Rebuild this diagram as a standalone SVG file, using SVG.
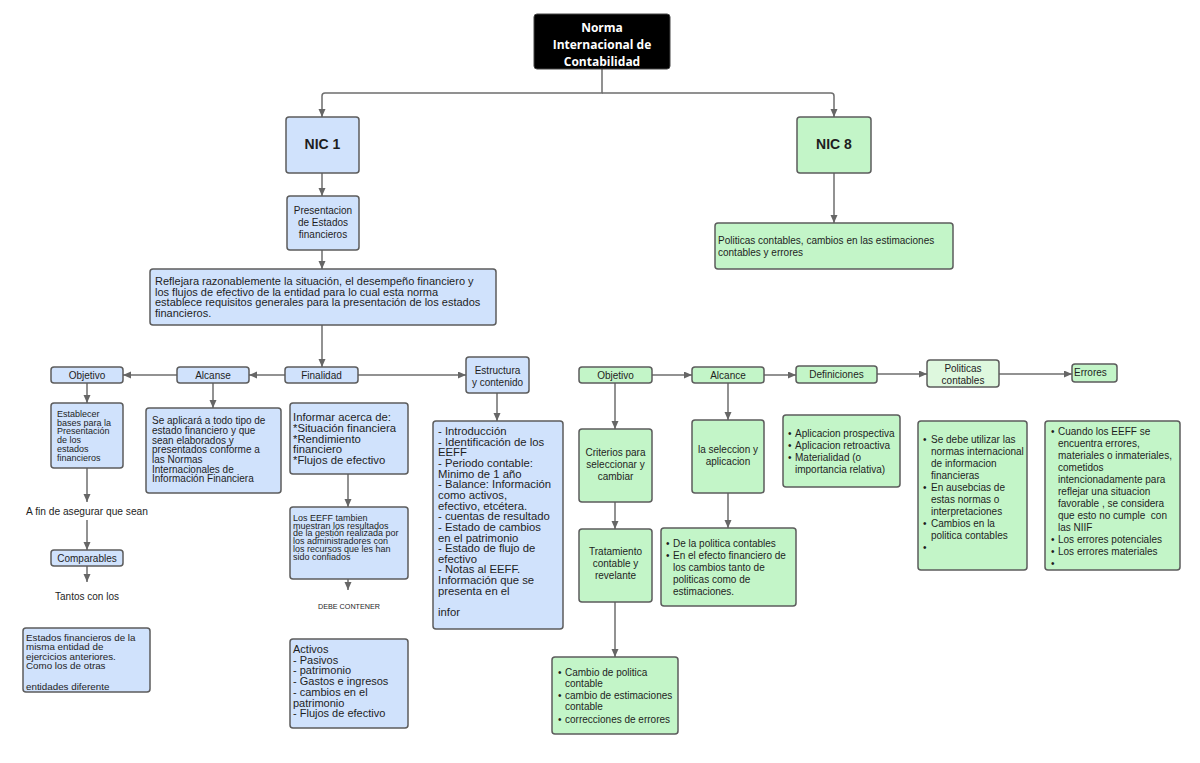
<svg xmlns="http://www.w3.org/2000/svg" width="1200" height="763" viewBox="0 0 1200 763">
<defs>
<marker id="ah" markerUnits="userSpaceOnUse" markerWidth="9" markerHeight="8" refX="8" refY="3.5" orient="auto">
<path d="M0,0 L8,3.5 L0,7 z" fill="#666"/>
</marker>
<style>
.b{fill:#d0e2fc;stroke:#5c5c5c;stroke-width:1.5}
.g{fill:#c3f5c8;stroke:#5c5c5c;stroke-width:1.5}
.gl{fill:#def8de;stroke:#5c5c5c;stroke-width:1.5}
text{font-family:"Liberation Sans",Arial,sans-serif;fill:#1e1e1e}
.c{text-anchor:middle}
.f10{font-size:10px}
.f11{font-size:11px}
.h{font-size:14px;font-weight:bold}
.tt{font-family:"Open Sans","Noto Sans",sans-serif;font-size:12px;font-weight:bold;fill:#fff;text-anchor:middle}
#connectors path,#connectors line{fill:none;stroke:#6e6e6e;stroke-width:1.5;marker-end:url(#ah)}
</style>
</defs>
<rect width="1200" height="763" fill="#fff"/>

<g id="connectors">
<path d="M602,69 V93 H325 Q322,93 322,96 V117"/>
<path d="M602,93 H831 Q834,93 834,96 V117"/>
<line x1="322" y1="173" x2="322" y2="196"/>
<line x1="322" y1="250" x2="322" y2="269"/>
<line x1="322" y1="325" x2="322" y2="367"/>
<line x1="285" y1="375" x2="249" y2="375"/>
<line x1="177" y1="375" x2="123" y2="375"/>
<line x1="358" y1="375" x2="466" y2="375"/>
<line x1="87" y1="383" x2="87" y2="403"/>
<line x1="87" y1="468" x2="87" y2="502"/>
<line x1="87" y1="520" x2="87" y2="550"/>
<line x1="87" y1="566" x2="87" y2="582"/>
<line x1="213" y1="383" x2="213" y2="408"/>
<line x1="348" y1="474" x2="348" y2="507"/>
<line x1="348" y1="579" x2="348" y2="590"/>
<line x1="497" y1="393" x2="497" y2="421"/>
<line x1="834" y1="173" x2="834" y2="223"/>
<line x1="652" y1="375" x2="692" y2="375"/>
<line x1="764" y1="375" x2="796" y2="375"/>
<line x1="877" y1="374" x2="927" y2="374"/>
<line x1="999" y1="374" x2="1072" y2="374"/>
<line x1="615" y1="383" x2="615" y2="429"/>
<line x1="615" y1="502" x2="615" y2="529"/>
<line x1="615" y1="602" x2="615" y2="657"/>
<line x1="728" y1="383" x2="728" y2="420"/>
<line x1="728" y1="493" x2="728" y2="528"/>
</g>

<g id="title">
<rect x="534" y="14" width="136" height="55" rx="3" fill="#000" stroke="#444" stroke-width="1"/>
<text class="tt" x="602" y="31.5">Norma</text>
<text class="tt" x="602" y="48.5">Internacional de</text>
<text class="tt" x="602" y="65.5">Contabilidad</text>
</g>

<g id="nic1">
<rect class="b" x="286" y="117" width="73" height="56" rx="3"/>
<text class="h c" x="322.5" y="149">NIC 1</text>
</g>

<g id="presentacion">
<rect class="b" x="287" y="196" width="72" height="54" rx="3"/>
<text class="c f10" x="323" y="213.5">Presentacion</text>
<text class="c f10" x="323" y="225.5">de Estados</text>
<text class="c f10" x="323" y="237.5">financieros</text>
</g>

<g id="reflejara">
<rect class="b" x="150" y="269" width="346" height="56" rx="3"/>
<text class="f11" x="155" y="285">Reflejara razonablemente la situación, el desempeño financiero y</text>
<text class="f11" x="155" y="295.7">los flujos de efectivo de la entidad para lo cual esta norma</text>
<text class="f11" x="155" y="306.4">establece requisitos generales para la presentación de los estados</text>
<text class="f11" x="155" y="317.1">financieros.</text>
</g>

<g id="objetivo1">
<rect class="b" x="51" y="367" width="72" height="16" rx="3"/>
<text class="c f10" x="87" y="378.5">Objetivo</text>
</g>
<g id="alcanse">
<rect class="b" x="177" y="367" width="72" height="16" rx="3"/>
<text class="c f10" x="213" y="378.5">Alcanse</text>
</g>
<g id="finalidad">
<rect class="b" x="285" y="367" width="73" height="16" rx="3"/>
<text class="c f10" x="321.5" y="378.5">Finalidad</text>
</g>
<g id="estructura">
<rect class="b" x="466" y="357" width="63" height="36" rx="3"/>
<text class="c f10" x="497.5" y="373.5">Estructura</text>
<text class="c f10" x="497.5" y="385.5">y contenido</text>
</g>

<g id="establecer">
<rect class="b" x="51" y="403" width="72" height="65" rx="3"/>
<g font-size="9">
<text x="57" y="417">Establecer</text>
<text x="57" y="425.7">bases para la</text>
<text x="57" y="434.4">Presentación</text>
<text x="57" y="443.1">de los</text>
<text x="57" y="451.8">estados</text>
<text x="57" y="460.5">financieros</text>
</g>
</g>

<g id="afin">
<text class="c" font-size="10.2" x="87" y="515">A fin de asegurar que sean</text>
</g>
<g id="comparables">
<rect class="b" x="51" y="550" width="72" height="16" rx="3"/>
<text class="c f10" x="87" y="561.5">Comparables</text>
</g>
<g id="tantos">
<text class="c f10" x="87" y="600">Tantos con los</text>
</g>
<g id="estados">
<rect class="b" x="23" y="628" width="127" height="64" rx="3"/>
<g font-size="9.8">
<text x="26" y="640.5">Estados financieros de la</text>
<text x="26" y="650">misma entidad de</text>
<text x="26" y="659.5">ejercicios anteriores.</text>
<text x="26" y="669">Como los de otras</text>
<text x="26" y="689.5">entidades diferente</text>
</g>
</g>

<g id="seaplicara">
<rect class="b" x="146" y="408" width="135" height="85" rx="3"/>
<text class="f10" x="152" y="424.2">Se aplicará a todo tipo de</text>
<text class="f10" x="152" y="433.9">estado financiero y que</text>
<text class="f10" x="152" y="443.6">sean elaborados y</text>
<text class="f10" x="152" y="453.3">presentados conforme a</text>
<text class="f10" x="152" y="463">las Normas</text>
<text class="f10" x="152" y="472.7">Internacionales de</text>
<text class="f10" x="152" y="482.4">Información Financiera</text>
</g>

<g id="informar">
<rect class="b" x="290" y="403" width="118" height="71" rx="3"/>
<g font-size="11.3">
<text x="293" y="421">Informar acerca de:</text>
<text x="293" y="431.8">*Situación financiera</text>
<text x="293" y="442.6">*Rendimiento</text>
<text x="293" y="453.4">financiero</text>
<text x="293" y="464.2">*Flujos de efectivo</text>
</g>
</g>

<g id="loseeff">
<rect class="b" x="290" y="507" width="118" height="72" rx="3"/>
<g font-size="9">
<text x="293" y="521">Los EEFF tambien</text>
<text x="293" y="528.7">muestran los resultados</text>
<text x="293" y="536.4">de la gestión realizada por</text>
<text x="293" y="544.1">los administradores con</text>
<text x="293" y="551.8">los recursos que les han</text>
<text x="293" y="559.5">sido confiados</text>
</g>
</g>

<g id="debe">
<text class="c" font-size="7.2" x="349" y="608.5">DEBE CONTENER</text>
</g>

<g id="activos">
<rect class="b" x="290" y="639" width="118" height="89" rx="3"/>
<g font-size="11">
<text x="293" y="653">Activos</text>
<text x="293" y="663.7">- Pasivos</text>
<text x="293" y="674.4">- patrimonio</text>
<text x="293" y="685.1">- Gastos e ingresos</text>
<text x="293" y="695.8">- cambios en el</text>
<text x="293" y="706.5">patrimonio</text>
<text x="293" y="717.2">- Flujos de efectivo</text>
</g>
</g>

<g id="contenido">
<rect class="b" x="433" y="421" width="130" height="208" rx="3"/>
<g font-size="11.3">
<text x="438" y="435">- Introducción</text>
<text x="438" y="445.65">- Identificación de los</text>
<text x="438" y="456.3">EEFF</text>
<text x="438" y="466.95">- Periodo contable:</text>
<text x="438" y="477.6">Minimo de 1 año</text>
<text x="438" y="488.25">- Balance: Información</text>
<text x="438" y="498.9">como activos,</text>
<text x="438" y="509.55">efectivo, etcétera.</text>
<text x="438" y="520.2">- cuentas de resultado</text>
<text x="438" y="530.85">- Estado de cambios</text>
<text x="438" y="541.5">en el patrimonio</text>
<text x="438" y="552.15">- Estado de flujo de</text>
<text x="438" y="562.8">efectivo</text>
<text x="438" y="573.45">- Notas al EEFF.</text>
<text x="438" y="584.1">Información que se</text>
<text x="438" y="594.75">presenta en el</text>
<text x="438" y="616">infor</text>
</g>
</g>

<g id="nic8">
<rect class="g" x="797" y="117" width="74" height="56" rx="3"/>
<text class="h c" x="834" y="149">NIC 8</text>
</g>

<g id="politicas-nic8">
<rect class="g" x="715" y="223" width="238" height="46" rx="3"/>
<text class="f10" x="718" y="243.5">Politicas contables, cambios en las estimaciones</text>
<text class="f10" x="718" y="255.5">contables y errores</text>
</g>

<g id="objetivo8">
<rect class="g" x="579" y="367" width="73" height="16" rx="3"/>
<text class="c f10" x="615.5" y="378.5">Objetivo</text>
</g>
<g id="alcance8">
<rect class="g" x="692" y="367" width="72" height="16" rx="3"/>
<text class="c f10" x="728" y="378.5">Alcance</text>
</g>
<g id="definiciones">
<rect class="g" x="796" y="366" width="81" height="17" rx="3"/>
<text class="c f10" x="836.5" y="378">Definiciones</text>
</g>
<g id="politicas-contables">
<rect class="gl" x="927" y="360" width="72" height="27" rx="3"/>
<text class="c f10" x="963" y="371.5">Politicas</text>
<text class="c f10" x="963" y="384">contables</text>
</g>
<g id="errores">
<rect class="g" x="1072" y="364" width="45" height="18" rx="3"/>
<text class="f10" x="1074" y="375.5">Errores</text>
</g>

<g id="criterios">
<rect class="g" x="579" y="429" width="73" height="73" rx="3"/>
<text class="c f10" x="615.5" y="455.5">Criterios para</text>
<text class="c f10" x="615.5" y="467.5">seleccionar y</text>
<text class="c f10" x="615.5" y="479.5">cambiar</text>
</g>
<g id="tratamiento">
<rect class="g" x="579" y="529" width="73" height="73" rx="3"/>
<text class="c f10" x="615.5" y="554.5">Tratamiento</text>
<text class="c f10" x="615.5" y="566.5">contable y</text>
<text class="c f10" x="615.5" y="578.5">revelante</text>
</g>
<g id="cambio">
<rect class="g" x="552" y="657" width="126" height="77" rx="3"/>
<g class="f10">
<text x="558" y="675.5">•</text><text x="565" y="675.5">Cambio de politica</text>
<text x="565" y="687">contable</text>
<text x="558" y="698.5">•</text><text x="565" y="698.5">cambio de estimaciones</text>
<text x="565" y="710">contable</text>
<text x="558" y="722.5">•</text><text x="565" y="722.5">correcciones de errores</text>
</g>
</g>

<g id="seleccion">
<rect class="g" x="692" y="420" width="72" height="73" rx="3"/>
<text class="c f10" x="728" y="452.5">la seleccion y</text>
<text class="c f10" x="728" y="464.5">aplicacion</text>
</g>
<g id="delapolitica">
<rect class="g" x="661" y="528" width="135" height="78" rx="3"/>
<g class="f10">
<text x="666" y="546.5">•</text><text x="673" y="546.5">De la politica contables</text>
<text x="666" y="558.5">•</text><text x="673" y="558.5">En el efecto financiero de</text>
<text x="673" y="570.5">los cambios tanto de</text>
<text x="673" y="582.5">politicas como de</text>
<text x="673" y="594.5">estimaciones.</text>
</g>
</g>

<g id="def-contenido">
<rect class="g" x="783" y="415" width="117" height="72" rx="3"/>
<g class="f10">
<text x="788" y="436.5">•</text><text x="795" y="436.5">Aplicacion prospectiva</text>
<text x="788" y="448.5">•</text><text x="795" y="448.5">Aplicacion retroactiva</text>
<text x="788" y="460.5">•</text><text x="795" y="460.5">Materialidad (o</text>
<text x="795" y="472.5">importancia relativa)</text>
</g>
</g>

<g id="pol-contenido">
<rect class="g" x="918" y="421" width="109" height="149" rx="3"/>
<g class="f10">
<text x="923" y="442.5">•</text><text x="931" y="442.5">Se debe utilizar las</text>
<text x="931" y="454.5">normas internacional</text>
<text x="931" y="466.5">de informacion</text>
<text x="931" y="478.5">financieras</text>
<text x="923" y="490.5">•</text><text x="931" y="490.5">En ausebcias de</text>
<text x="931" y="502.5">estas normas o</text>
<text x="931" y="514.5">interpretaciones</text>
<text x="923" y="526.5">•</text><text x="931" y="526.5">Cambios en la</text>
<text x="931" y="538.5">politica contables</text>
<text x="923" y="550.5">•</text>
</g>
</g>

<g id="err-contenido">
<rect class="g" x="1045" y="421" width="135" height="149" rx="3"/>
<g class="f10">
<text x="1051" y="434.5">•</text><text x="1058" y="434.5">Cuando los EEFF se</text>
<text x="1058" y="446.5">encuentra errores,</text>
<text x="1058" y="458.5">materiales o inmateriales,</text>
<text x="1058" y="470.5">cometidos</text>
<text x="1058" y="482.5">intencionadamente para</text>
<text x="1058" y="494.5">reflejar una situacion</text>
<text x="1058" y="506.5">favorable , se considera</text>
<text x="1058" y="518.5" xml:space="preserve">que esto no cumple  con</text>
<text x="1058" y="530.5">las NIIF</text>
<text x="1051" y="542.5">•</text><text x="1058" y="542.5">Los errores potenciales</text>
<text x="1051" y="554.5">•</text><text x="1058" y="554.5">Los errores materiales</text>
<text x="1051" y="566.5">•</text>
</g>
</g>
</svg>
